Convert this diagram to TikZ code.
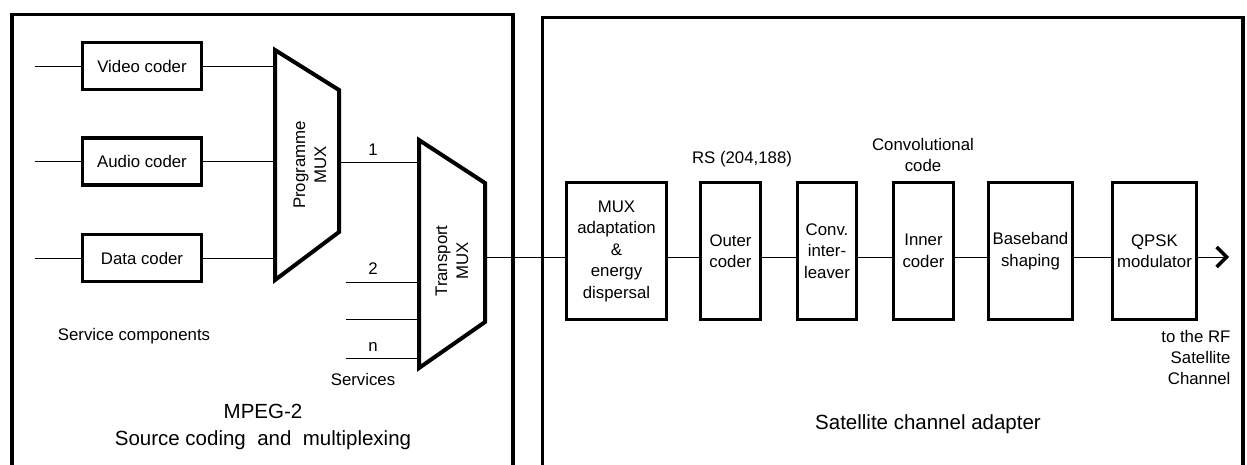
\documentclass[tikz,border=0pt]{standalone}
\usepackage{fontspec}
\setmainfont{Liberation Sans}
\usetikzlibrary{arrows.meta,positioning}

\begin{document}
\begin{tikzpicture}[
  x=1pt,y=-1pt,
  frame/.style={line width=3.5pt},
  blk/.style={draw,line width=3.2pt,inner sep=0pt,align=center,font=\fontsize{16.8}{21.5}\selectfont},
  coder/.style={blk,minimum width=119pt,minimum height=47pt},
  chan/.style={blk,minimum height=137pt},
  mux/.style={line width=4pt,line join=miter},
  lbl/.style={font=\fontsize{16.8}{21}\selectfont,align=center},
  big/.style={font=\fontsize{20.5}{27}\selectfont,align=center},
  wire/.style={line width=0.9pt}]
\useasboundingbox (0,0) rectangle (1247,464);
% outer frames
\draw[frame] (12,470) -- (12,14.5) -- (513,14.5) -- (513,470);
\draw[frame] (542.5,470) -- (542.5,17.5) -- (1243,17.5) -- (1243,470);
% source coders
\node[coder] (vid) at (142,66) {Video coder};
\node[coder] (aud) at (142,161.5) {Audio coder};
\node[coder] (dat) at (142,258) {Data coder};
\foreach \c in {vid,aud,dat} {
  \coordinate (\c-in) at (35,0 |- \c.west);
  \draw[wire] (\c-in) -- (\c.west);
}
% programme and transport multiplexers
\draw[mux] (275,50) -- (339,90) -- (339,232) -- (275,280) -- cycle;
\node[lbl,rotate=90] (pmux) at (310,165) {Programme\\MUX};
\coordinate (pmuxL) at (275,0);
\coordinate (pmuxR) at (339,162);
\draw[mux] (419,140) -- (485,183) -- (485,322) -- (419,368) -- cycle;
\node[lbl,rotate=90] (tmux) at (452,261) {Transport\\MUX};
\coordinate (tmuxL) at (419,0);
\coordinate (tmuxR) at (485,257);
\foreach \c in {vid,aud,dat} \draw[wire] (\c.east) -- (\c.east -| pmuxL);
\draw[wire] (pmuxR) -- (pmuxR -| tmuxL);
\coordinate (s2) at (346,282);
\coordinate (s3) at (346,319);
\coordinate (sn) at (346,358);
\foreach \s in {s2,s3,sn} \draw[wire] (\s) -- (\s -| tmuxL);
\node[lbl] (one) at (373,150) {1};
\node[lbl] (two) at (373,269) {2};
\node[lbl] (enn) at (373,347) {n};
\node[lbl] (svc) at (363,379) {Services};
\node[lbl] (comp) at (134,336) {Service components};
\node[big] (mpeg) at (263,427) {MPEG-2\\Source coding\ \ and\ \ multiplexing};
% satellite channel adapter chain
\node[chan,minimum width=100pt] (adapt) at (616.5,251) {MUX\\adaptation\\\&\\energy\\dispersal};
\node[chan,minimum width=60pt] (outer) at (730.5,251) {Outer\\coder};
\node[chan,minimum width=59pt] (ilv) at (827,251) {Conv.\\inter-\\leaver};
\node[chan,minimum width=60pt] (inner) at (923.5,251) {Inner\\coder};
\node[chan,minimum width=84pt] (bb) at (1030.5,251) {Baseband\\shaping};
\node[chan,minimum width=84pt] (qpsk) at (1154.5,251) {QPSK\\modulator};
\coordinate (bus) at (0,257);
\draw[wire] (tmuxR) -- (adapt.west |- bus);
\foreach \a/\b in {adapt/outer,outer/ilv,ilv/inner,inner/bb,bb/qpsk}
  \draw[wire] (\a.east |- bus) -- (\b.west |- bus);
\coordinate (rf) at (1229,257);
\draw[wire,-{Straight Barb[length=10pt,width=20pt,line width=3.5pt]}] (qpsk.east |- bus) -- (rf);
\node[lbl] (rs) at (742,159) {RS (204,188)};
\node[lbl] (conv) at (923,155) {Convolutional\\code};
\node[lbl,align=right,anchor=north east] (dest) at (1234,327) {to the RF\\Satellite\\Channel};
\node[big] (sca) at (928,424) {Satellite channel adapter};
\end{tikzpicture}
\end{document}
